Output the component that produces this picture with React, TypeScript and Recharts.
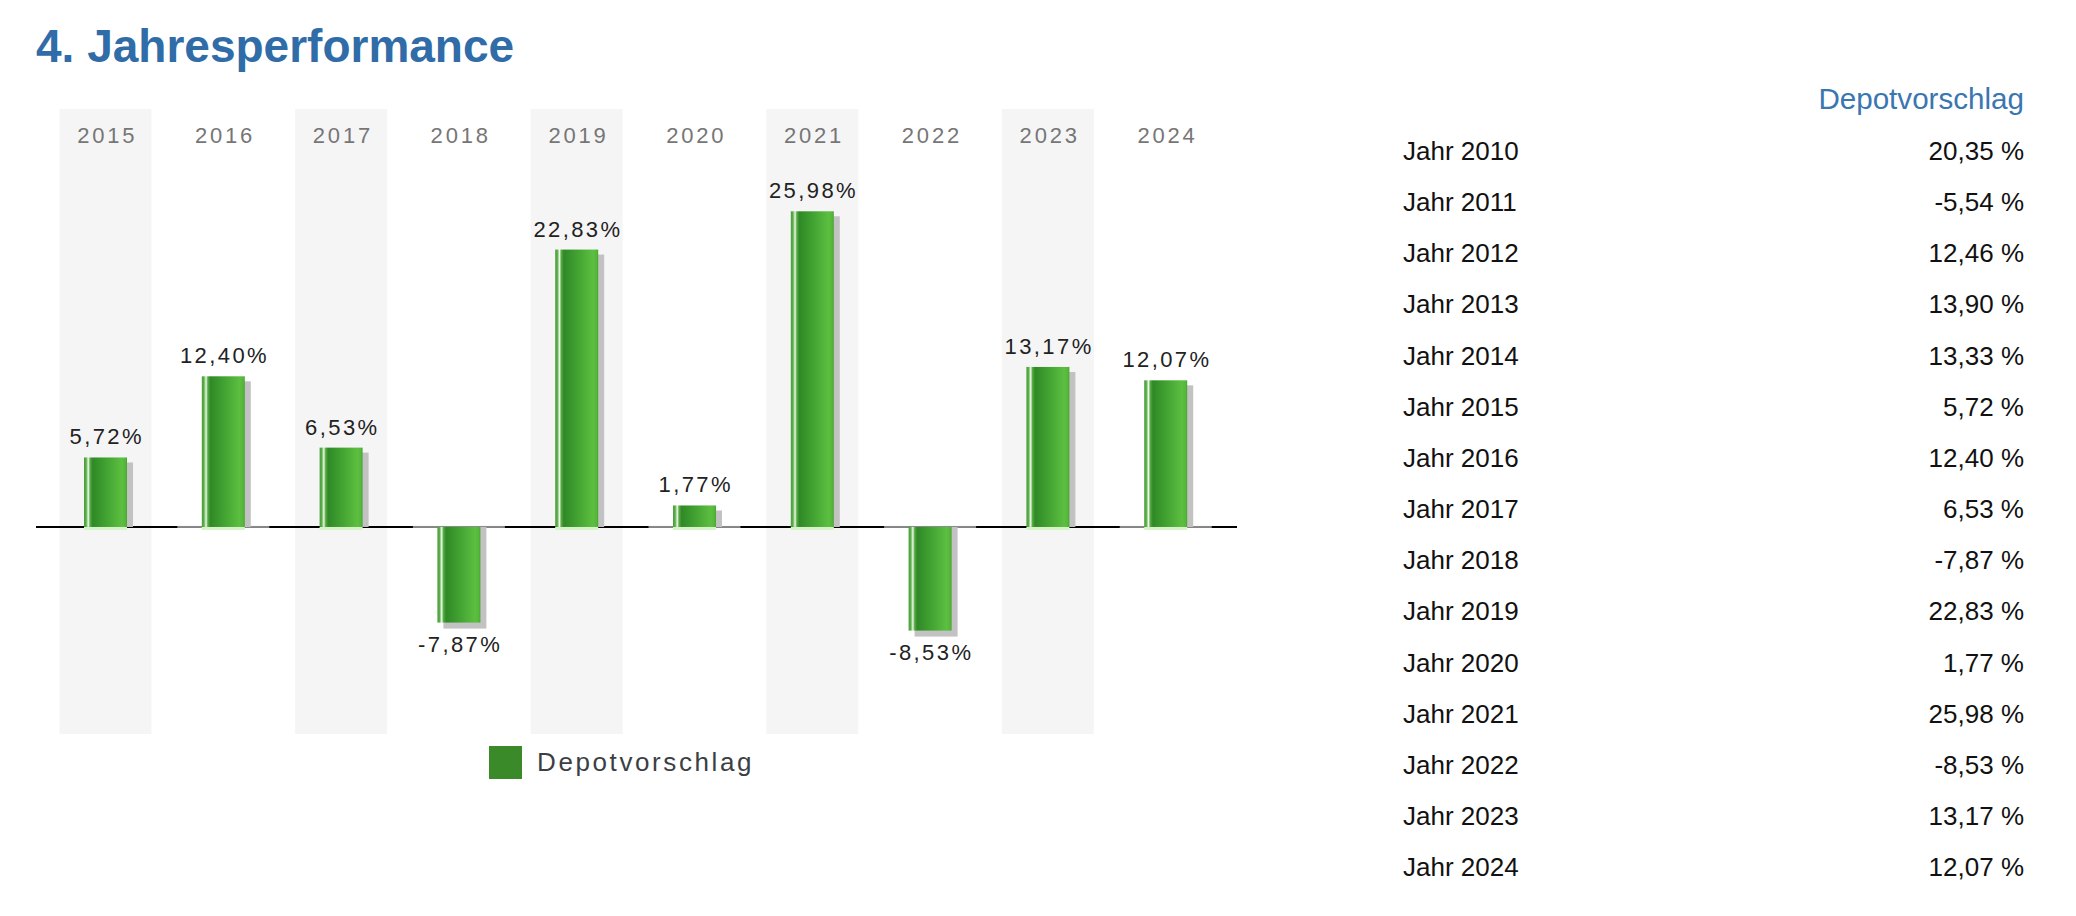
import React from 'react'
import {
  BarChart,
  Bar,
  XAxis,
  YAxis,
  ReferenceLine,
  LabelList,
  Legend,
} from 'recharts'

// Jahresperformance (Tabelle rechts), 2010 - 2024
const tableYears = [
  '2010', '2011', '2012', '2013', '2014', '2015', '2016', '2017',
  '2018', '2019', '2020', '2021', '2022', '2023', '2024',
]
const tableValues = [
  20.35, -5.54, 12.46, 13.9, 13.33, 5.72, 12.4, 6.53,
  -7.87, 22.83, 1.77, 25.98, -8.53, 13.17, 12.07,
]

// chart shows only the last 10 years
const chartYears = tableYears.slice(5)
const chartValues = tableValues.slice(5)
const seriesName = 'Depotvorschlag'

const data = chartYears.map((year, i) => ({ year, value: chartValues[i] }))

const Y_MIN = -17.04
const Y_MAX = 34.4
const BAND_W = 92
const FONT = '"Liberation Sans", Arial, Helvetica, sans-serif'
const BLUE = '#2f6ca8'

const fmt = (v: number, sep = '') => v.toFixed(2).replace('.', ',') + sep + '%'

// grey column behind every second year
const Band = (props: any) => {
  const { x, y, width, height, index } = props
  if (index % 2 !== 0) return <g />
  const cx = x + width / 2
  return (
    <rect x={cx - BAND_W / 2} y={y} width={BAND_W} height={height} fill='#f5f5f6' />
  )
}

const GlossyBar = (props: any) => {
  const { x, y, width, height, index, payload } = props
  const top = Math.min(y, y + height)
  const bottom = Math.max(y, y + height)
  const pos = payload.value >= 0
  const zero = pos ? bottom : top
  const cx = x + width / 2
  return (
    <g>
      {index % 2 === 1 && (
        <rect x={cx - BAND_W / 2} y={zero - 1} width={BAND_W} height={2} fill='#8a8a8a' />
      )}
      {pos ? (
        <rect x={x + 6} y={top + 5} width={width} height={Math.max(zero - top - 5, 0)} fill='#c2c2c2' />
      ) : (
        <rect x={x + 6} y={zero} width={width} height={bottom - zero + 6} fill='#c2c2c2' />
      )}
      {pos && <rect x={x} y={zero} width={width} height={3} fill='#d6f3c8' />}
      <rect x={x} y={top} width={width} height={bottom - top} fill='url(#barGloss)' />
    </g>
  )
}

const ValueLabel = (props: any) => {
  const { x, y, width, height, value } = props
  const v = Array.isArray(value) ? value[1] : value
  const top = Math.min(y, y + height)
  const bottom = Math.max(y, y + height)
  const ty = v >= 0 ? top - 13 : bottom + 29
  return (
    <text
      x={x + width / 2}
      y={ty}
      dx={1.2}
      textAnchor='middle'
      fontFamily={FONT}
      fontSize={22}
      letterSpacing={2.4}
      fill='#222'
    >
      {fmt(v)}
    </text>
  )
}

const YearTick = (props: any) => {
  const { x, y, payload } = props
  return (
    <text
      x={x}
      y={y + 34}
      dx={1.4}
      textAnchor='middle'
      fontFamily={FONT}
      fontSize={22}
      letterSpacing={2.8}
      fill='#767676'
    >
      {payload.value}
    </text>
  )
}

const LegendBox = () => (
  <div style={{ display: 'flex', alignItems: 'center', fontFamily: FONT }}>
    <span style={{ width: 33, height: 33, background: '#3b8a2a', marginRight: 15 }} />
    <span style={{ fontSize: 26, lineHeight: '33px', letterSpacing: 2.6, color: '#3b3f44' }}>
      {seriesName}
    </span>
  </div>
)

const App = () => {
  return (
    <div
      style={{
        position: 'absolute',
        left: 0,
        top: 0,
        width: 2076,
        height: 916,
        background: '#fff',
        overflow: 'hidden',
      }}
    >
      <div style={{ position: 'absolute', left: 0, top: 0 }}>
        <BarChart
          width={1260}
          height={800}
          data={data}
          margin={{ top: 109, right: 23, bottom: 66, left: 36 }}
        >
          <defs>
            <linearGradient id='barGloss' x1='0' y1='0' x2='1' y2='0'>
              <stop offset='0%' stopColor='#4a9e3a' />
              <stop offset='5%' stopColor='#5aae48' />
              <stop offset='10%' stopColor='#eef8ea' />
              <stop offset='14%' stopColor='#58ac46' />
              <stop offset='20%' stopColor='#2f8926' />
              <stop offset='55%' stopColor='#44a533' />
              <stop offset='88%' stopColor='#5cbf40' />
              <stop offset='96%' stopColor='#55b73b' />
              <stop offset='100%' stopColor='#49a235' />
            </linearGradient>
          </defs>
          <YAxis hide type='number' domain={[Y_MIN, Y_MAX]} />
          <ReferenceLine y={0} stroke='#000' strokeWidth={2} zIndex={250} />
          <Legend
            verticalAlign='middle'
            align='center'
            wrapperStyle={{ left: 489, top: 746, width: 'auto', height: 'auto' }}
            content={<LegendBox />}
          />
          <Bar
            dataKey='value'
            name={seriesName}
            barSize={43}
            isAnimationActive={false}
            background={<Band />}
            shape={<GlossyBar />}
          >
            <LabelList dataKey='value' content={<ValueLabel />} />
          </Bar>
          <XAxis
            dataKey='year'
            orientation='top'
            mirror
            height={1}
            padding={{ left: 11, right: 12 }}
            axisLine={false}
            tickLine={false}
            tickSize={0}
            tickMargin={0}
            interval={0}
            tick={<YearTick />}
          />
        </BarChart>
      </div>

      <svg
        width={2076}
        height={916}
        style={{ position: 'absolute', left: 0, top: 0, pointerEvents: 'none' }}
      >
        <text x={36} y={62} fontFamily={FONT} fontWeight='bold' fontSize={46} fill={BLUE}>
          4. Jahresperformance
        </text>
        <text x={2024} y={109} textAnchor='end' fontFamily={FONT} fontSize={29.6} fill='#3a76b0'>
          {seriesName}
        </text>
        {tableYears.map((yr, i) => (
          <g key={yr}>
            <text x={1403} y={160 + i * 51.15} fontFamily={FONT} fontSize={26} fill='#111'>
              {'Jahr ' + yr}
            </text>
            <text
              x={2024}
              y={160 + i * 51.15}
              textAnchor='end'
              fontFamily={FONT}
              fontSize={26}
              fill='#111'
            >
              {fmt(tableValues[i], ' ')}
            </text>
          </g>
        ))}
      </svg>
    </div>
  )
}

export default App
